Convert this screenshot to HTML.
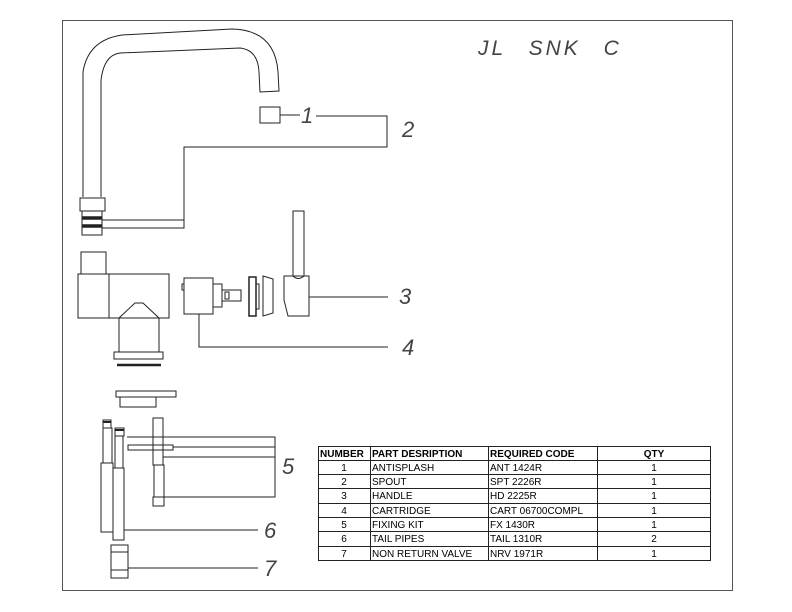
<!DOCTYPE html>
<html><head><meta charset="utf-8"><style>
html,body{margin:0;padding:0;background:#fff}
svg{display:block}
text{font-family:"Liberation Sans",sans-serif}
.l{font-size:22px;font-style:italic;fill:#444}
.t{font-size:10px;fill:#000}
</style></head><body>
<svg width="792" height="612" viewBox="0 0 792 612" xmlns="http://www.w3.org/2000/svg">
<g fill="none" stroke="#222" stroke-width="1">
<rect x="62.5" y="20.5" width="670" height="570" stroke="#555"/>
<path d="M83,197 L83,72 Q88,40 122,35 L232,29 Q275,30 278,72 L279,91 L260,92 L259,72 Q258,50 240,48 L120,53 Q104,55 101,80 L101,197"/>
<rect x="80" y="198" width="25" height="13"/>
<rect x="82" y="211" width="20" height="24"/>
<line x1="82" y1="218" x2="102" y2="218" stroke-width="3.5"/>
<line x1="82" y1="226" x2="102" y2="226" stroke-width="3.5"/>
<path d="M102,220 L184,220 M102,228 L184,228 L184,147 L387,147 L387,116 L316,116"/>
<rect x="260" y="107" width="20" height="16"/>
<line x1="280" y1="115" x2="300" y2="115"/>
<rect x="81" y="252" width="25" height="22"/>
<rect x="78" y="274" width="91" height="44"/>
<line x1="109" y1="274" x2="109" y2="318"/>
<path d="M119,352 L119,318 L135,303 L143,303 L159,318 L159,352"/>
<rect x="114" y="352" width="49" height="7"/>
<line x1="117" y1="365" x2="161" y2="365" stroke-width="2.5"/>
<rect x="116" y="391" width="60" height="6"/>
<rect x="120" y="397" width="36" height="10"/>
<rect x="184" y="278" width="29" height="36"/>
<rect x="182" y="284" width="2" height="6"/>
<rect x="213" y="284" width="9" height="23"/>
<rect x="222" y="290" width="19" height="11"/>
<rect x="225" y="292" width="4" height="7"/>
<rect x="249" y="277" width="7" height="39" stroke-width="1.5"/>
<rect x="256" y="284" width="3" height="25"/>
<path d="M263,276 L273,279 L273,313 L263,316 Z"/>
<path d="M199,314 L199,347 L388,347"/>
<rect x="293" y="211" width="11" height="65"/>
<path d="M284,276 L293,276 Q298,281 304,276 L309,276 L309,316 L288,316 L284,300 Z"/>
<line x1="309" y1="297" x2="388" y2="297"/>
<rect x="103" y="420" width="8" height="8"/>
<line x1="103" y1="422" x2="111" y2="422" stroke-width="2"/>
<rect x="103" y="428" width="9" height="35"/>
<rect x="101" y="463" width="12" height="69"/>
<rect x="115" y="428" width="9" height="8"/>
<line x1="115" y1="430" x2="124" y2="430" stroke-width="2"/>
<rect x="115" y="436" width="8" height="32"/>
<rect x="113" y="468" width="11" height="72"/>
<rect x="153" y="418" width="10" height="47"/>
<rect x="154" y="465" width="10" height="32"/>
<rect x="153" y="497" width="11" height="9"/>
<rect x="128" y="445" width="45" height="5"/>
<path d="M127,437 L275,437 L275,497 L164,497 M173,447 L275,447 M163,457 L275,457"/>
<line x1="124" y1="530" x2="258" y2="530"/>
<rect x="111" y="545" width="17" height="33"/>
<line x1="111" y1="552" x2="128" y2="552"/>
<line x1="111" y1="570" x2="128" y2="570"/>
<line x1="128" y1="568" x2="258" y2="568"/>
<rect x="318.5" y="446.5" width="392" height="114"/>
<path d="M370.5,446 V561 M488.5,446 V561 M597.5,446 V561"/>
<path d="M318,460.5 H711 M318,474.5 H711 M318,488.5 H711 M318,503.5 H711 M318,517.5 H711 M318,531.5 H711 M318,546.5 H711"/>
</g>
<text x="478" y="55" style="font-size:21px;font-style:italic;fill:#444;letter-spacing:3px;word-spacing:14px">JL SNK C</text>
<text class="l" x="301" y="123">1</text>
<text class="l" x="402" y="137">2</text>
<text class="l" x="399" y="304">3</text>
<text class="l" x="402" y="355">4</text>
<text class="l" x="282" y="474">5</text>
<text class="l" x="264" y="538">6</text>
<text class="l" x="264" y="576">7</text>
<g class="t">
<text x="320" y="457" font-weight="bold">NUMBER</text>
<text x="372" y="457" font-weight="bold">PART DESRIPTION</text>
<text x="490" y="457" font-weight="bold">REQUIRED CODE</text>
<text x="654" y="457" font-weight="bold" text-anchor="middle">QTY</text>
<g text-anchor="middle">
<text x="344" y="471">1</text><text x="344" y="485">2</text><text x="344" y="499">3</text><text x="344" y="514">4</text><text x="344" y="528">5</text><text x="344" y="542">6</text><text x="344" y="557">7</text>
<text x="654" y="471">1</text><text x="654" y="485">1</text><text x="654" y="499">1</text><text x="654" y="514">1</text><text x="654" y="528">1</text><text x="654" y="542">2</text><text x="654" y="557">1</text>
</g>
<text x="372" y="471">ANTISPLASH</text><text x="372" y="485">SPOUT</text><text x="372" y="499">HANDLE</text><text x="372" y="514">CARTRIDGE</text><text x="372" y="528">FIXING KIT</text><text x="372" y="542">TAIL PIPES</text><text x="372" y="557">NON RETURN VALVE</text>
<text x="490" y="471">ANT 1424R</text><text x="490" y="485">SPT 2226R</text><text x="490" y="499">HD 2225R</text><text x="490" y="514">CART 06700COMPL</text><text x="490" y="528">FX 1430R</text><text x="490" y="542">TAIL 1310R</text><text x="490" y="557">NRV 1971R</text>
</g>
</svg>
</body></html>
